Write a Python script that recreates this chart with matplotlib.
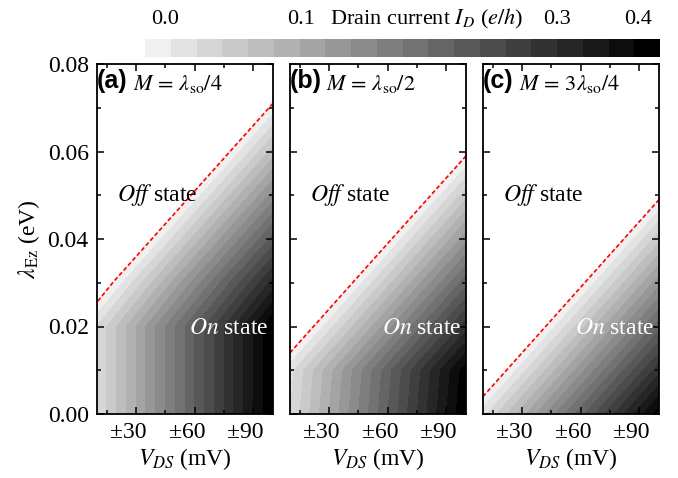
import numpy as np
import matplotlib
matplotlib.use("Agg")
import matplotlib.pyplot as plt
from matplotlib.transforms import ScaledTranslation

plt.rcParams["font.family"] = ["Liberation Serif", "DejaVu Serif"]
plt.rcParams["mathtext.fontset"] = "stix"
plt.rcParams["font.size"] = 17

# grid of the maps
vds = np.array([10, 25, 40, 55, 70, 85, 100])  # mV
lam_ez = np.array([0.00, 0.01, 0.02, 0.03, 0.04, 0.05, 0.06, 0.07, 0.08])  # eV

# drain current I_D (e/h), rows = lam_ez, cols = vds
# (negative values = below threshold, i.e. the white off-state region)
current_a = np.array([
    [0.040, 0.100, 0.160, 0.220, 0.280, 0.340, 0.400],
    [0.040, 0.100, 0.160, 0.220, 0.280, 0.340, 0.400],
    [0.040, 0.100, 0.160, 0.220, 0.280, 0.340, 0.400],
    [-0.032, 0.028, 0.088, 0.148, 0.208, 0.268, 0.328],
    [-0.112, -0.052, 0.008, 0.068, 0.128, 0.188, 0.248],
    [-0.192, -0.132, -0.072, -0.012, 0.048, 0.108, 0.168],
    [-0.272, -0.212, -0.152, -0.092, -0.032, 0.028, 0.088],
    [-0.352, -0.292, -0.232, -0.172, -0.112, -0.052, 0.008],
    [-0.432, -0.372, -0.312, -0.252, -0.192, -0.132, -0.072],
])
current_b = np.array([
    [0.040, 0.100, 0.160, 0.220, 0.280, 0.340, 0.400],
    [0.032, 0.092, 0.152, 0.212, 0.272, 0.332, 0.392],
    [-0.048, 0.012, 0.072, 0.132, 0.192, 0.252, 0.312],
    [-0.128, -0.068, -0.008, 0.052, 0.112, 0.172, 0.232],
    [-0.208, -0.148, -0.088, -0.028, 0.032, 0.092, 0.152],
    [-0.288, -0.228, -0.168, -0.108, -0.048, 0.012, 0.072],
    [-0.368, -0.308, -0.248, -0.188, -0.128, -0.068, -0.008],
    [-0.448, -0.388, -0.328, -0.268, -0.208, -0.148, -0.088],
    [-0.528, -0.468, -0.408, -0.348, -0.288, -0.228, -0.168],
])
current_c = np.array([
    [0.032, 0.092, 0.152, 0.212, 0.272, 0.332, 0.392],
    [-0.048, 0.012, 0.072, 0.132, 0.192, 0.252, 0.312],
    [-0.128, -0.068, -0.008, 0.052, 0.112, 0.172, 0.232],
    [-0.208, -0.148, -0.088, -0.028, 0.032, 0.092, 0.152],
    [-0.288, -0.228, -0.168, -0.108, -0.048, 0.012, 0.072],
    [-0.368, -0.308, -0.248, -0.188, -0.128, -0.068, -0.008],
    [-0.448, -0.388, -0.328, -0.268, -0.208, -0.148, -0.088],
    [-0.528, -0.468, -0.408, -0.348, -0.288, -0.228, -0.168],
    [-0.608, -0.548, -0.488, -0.428, -0.368, -0.308, -0.248],
])

panel_tags = ["(a)", "(b)", "(c)"]
panel_titles = [r"$M\,=\,\lambda_{\rm so}/4$", r"$M\,=\,\lambda_{\rm so}/2$",
                r"$M\,=\,3\lambda_{\rm so}/4$"]
x_ticks = [30, 60, 90]
x_ticklabels = ["\u00b130", "\u00b160", "\u00b190"]
y_ticks = [0.00, 0.02, 0.04, 0.06, 0.08]
cbar_ticklabels = ["0.0", "0.1", "0.3", "0.4"]

levels = np.linspace(0, 0.4, 21)
greys = [str(g) for g in np.linspace(0.94, 0.0, 20)]

W, H = 678, 478
fig = plt.figure(figsize=(W / 100, H / 100), dpi=100)


def box(left, top, right, bottom):
    return [left / W, 1 - bottom / H, (right - left) / W, (bottom - top) / H]


lefts = [97, 290, 483]
shift = ScaledTranslation(-8 / 100, 0, fig.dpi_scale_trans)
cs = None
for i, cur in enumerate([current_a, current_b, current_c]):
    ax = fig.add_axes(box(lefts[i], 64, lefts[i] + 176, 414))
    cs = ax.contourf(vds, lam_ez, cur, levels=levels, colors=greys)
    ax.contour(vds, lam_ez, cur, levels=[0], colors="red", linewidths=1.2,
               linestyles=[(0, (2.5, 1.5))])
    ax.set_xlim(10, 100)
    ax.set_ylim(0, 0.08)
    ax.set_xticks(x_ticks, x_ticklabels)
    ax.set_xticks([15, 45, 75], minor=True)
    ax.set_yticks(y_ticks)
    ax.set_yticks([0.01, 0.03, 0.05, 0.07], minor=True)
    ax.tick_params(which="both", direction="in", top=True, right=True, width=1.1)
    ax.tick_params(which="major", length=5, pad=6)
    ax.tick_params(which="minor", length=3)
    for sp in ax.spines.values():
        sp.set_linewidth(1.3)
    for lab in ax.get_xticklabels():
        lab.set_transform(lab.get_transform() + shift)
    if i == 0:
        ax.set_yticklabels(["%.2f" % y for y in y_ticks])
        ax.set_ylabel(r"$\lambda_{\rm Ez}$ (eV)", labelpad=4)
    else:
        ax.tick_params(labelleft=False)
    ax.set_xlabel(r"$V_{DS}$ (mV)", labelpad=2)

    ax.text(0.0, 0.985, panel_tags[i], transform=ax.transAxes, ha="left", va="top",
            family="Liberation Sans", weight="bold", fontsize=18)
    ax.text(0.205, 0.975, panel_titles[i], transform=ax.transAxes, ha="left", va="top",
            fontsize=16)
    ax.text(0.34, 0.625, r"$\mathit{Off}$ state", transform=ax.transAxes,
            ha="center", va="center", fontsize=17)
    ax.text(0.745, 0.245, r"$\mathit{On}$ state", transform=ax.transAxes,
            ha="center", va="center", fontsize=17, color="white")

cax = fig.add_axes(box(145, 39, 660, 57))
cbar = fig.colorbar(cs, cax=cax, orientation="horizontal")
cbar.outline.set_visible(False)
cax.set_xticks([])
for x, s in zip([165, 301, 557, 638], cbar_ticklabels):
    fig.text(x / W, 1 - 19 / H, s, ha="center", va="center", fontsize=16)
fig.text(427 / W, 1 - 19 / H, r"Drain current $I_D$ ($e/h$)", ha="center", va="center",
         fontsize=16)

fig.savefig("out.png", dpi=100)
